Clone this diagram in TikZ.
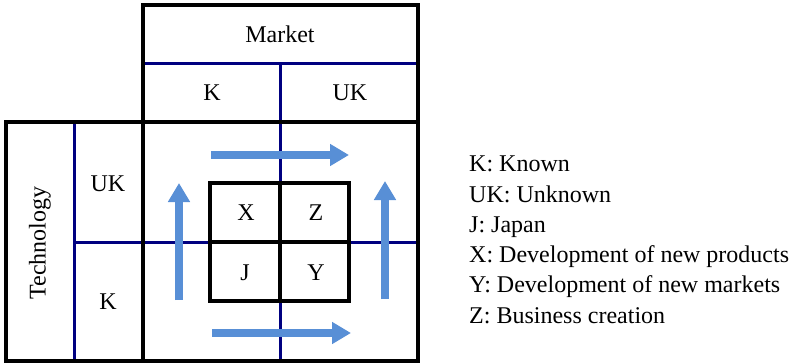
\documentclass[tikz,border=0pt]{standalone}
\usepackage{fontspec}
\setmainfont{Liberation Serif}
\usetikzlibrary{arrows.meta}
\definecolor{navyline}{RGB}{0,0,128}
\definecolor{arrowblue}{RGB}{88,143,214}
\tikzset{
  blk/.style={black, line width=3.3pt},
  blu/.style={navyline, line width=3pt},
  lbl/.style={font=\fontsize{24}{28}\selectfont, inner sep=0pt},
  leg/.style={font=\fontsize{24}{28}\selectfont, inner sep=0pt, anchor=base west},
  bigarrow/.style={arrowblue, line width=7.5pt, -{Triangle[length=19pt,width=21pt]}}
}
\begin{document}
\begin{tikzpicture}[x=1pt,y=-1pt]
\useasboundingbox (0,0) rectangle (796,364);
% corner coordinates
\coordinate (mTL) at (143,5);
\coordinate (mML) at (143,63);
\coordinate (mMR) at (418,63);
\coordinate (mMid) at (280,63);
\coordinate (bTL) at (6,122);
\coordinate (bBR) at (418,361);
\coordinate (cL) at (143,122);
\coordinate (cLb) at (143,361);
\coordinate (tL) at (74,122);
\coordinate (tLb) at (74,361);
\coordinate (hL) at (74,242);
\coordinate (hR) at (418,242);
\coordinate (vB) at (280,361);
% blue dividers
\draw[blu] (mML) -- (mMR);
\draw[blu] (mMid) -- (vB);
\draw[blu] (tL) -- (tLb);
\draw[blu] (hL) -- (hR);
% black frames
\draw[blk] (mTL) rectangle (418,122);
\draw[blk] (bTL) rectangle (bBR);
\draw[blk] (cL) -- (cLb);
% inner box
\coordinate (iTL) at (210,183);
\coordinate (iBR) at (349,301);
\draw[blk, fill=white] (iTL) rectangle (iBR);
\draw[blk] (280,183) -- (280,301);
\draw[blk] (210,242) -- (349,242);
% arrows
\coordinate (a1s) at (211,155); \coordinate (a1e) at (349,155);
\coordinate (a2s) at (212,333); \coordinate (a2e) at (351,333);
\coordinate (a3s) at (179,300); \coordinate (a3e) at (179,183);
\coordinate (a4s) at (385,299); \coordinate (a4e) at (385,181);
\draw[bigarrow] (a1s) -- (a1e);
\draw[bigarrow] (a2s) -- (a2e);
\draw[bigarrow] (a3s) -- (a3e);
\draw[bigarrow] (a4s) -- (a4e);
% labels
\node[lbl] (market) at (280,34) {Market};
\node[lbl] (mk) at (212,93) {K};
\node[lbl] (muk) at (350,93) {UK};
\node[lbl, rotate=90] (tech) at (40,243) {Technology};
\node[lbl] (tuk) at (108,184) {UK};
\node[lbl] (tk) at (108,302) {K};
\node[lbl] (x) at (246,213) {X};
\node[lbl] (z) at (316,213) {Z};
\node[lbl] (j) at (245,273) {J};
\node[lbl] (y) at (316,273) {Y};
% legend
\node[leg] (l1) at (469,171.7) {K: Known};
\node[leg] (l2) at (469,202.0) {UK: Unknown};
\node[leg] (l3) at (469,232.3) {J: Japan};
\node[leg] (l4) at (469,262.6) {X: Development of new products};
\node[leg] (l5) at (469,292.9) {Y: Development of new markets};
\node[leg] (l6) at (469,323.2) {Z: Business creation};
\end{tikzpicture}
\end{document}
